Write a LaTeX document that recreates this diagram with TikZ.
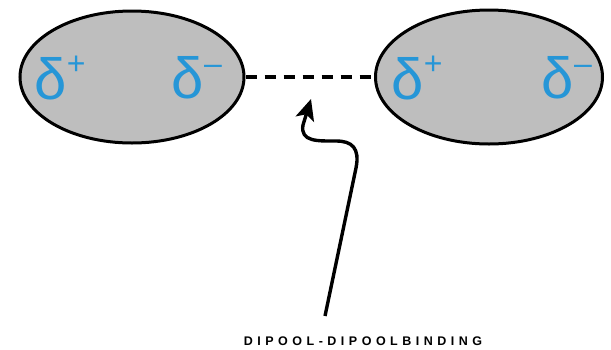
\documentclass[tikz,border=0pt]{standalone}
\usepackage{fontspec}
\setmainfont{Liberation Sans}
\usetikzlibrary{shapes.geometric,arrows.meta}
\definecolor{chargeblue}{RGB}{38,150,215}
\definecolor{molgray}{RGB}{190,190,190}
\tikzset{
  molecule/.style={ellipse, draw=black, line width=3pt, fill=molgray, inner sep=0pt},
  charge/.style={text=chargeblue, font=\fontsize{58}{58}\selectfont, inner sep=0pt},
  bond/.style={line width=4pt, dash pattern=on 11pt off 8pt},
  pointer/.style={line width=3.4pt, -{Stealth[length=21pt,width=19pt,inset=5pt]}},
  caption/.style={font=\bfseries\fontsize{12.5}{12.5}\selectfont\addfontfeature{LetterSpace=36}, inner sep=0pt}
}
\newcommand{\supsign}[1]{\raisebox{0.42em}{\fontsize{32}{32}\selectfont #1}}
\begin{document}
\begin{tikzpicture}[x=1pt,y=-1pt]
  \useasboundingbox (0,0) rectangle (611,349);
  % two polar molecules
  \node[molecule, minimum width=224pt, minimum height=132pt] (left) at (132,77) {};
  \node[molecule, minimum width=227pt, minimum height=134pt] (right) at (489,77) {};
  % partial charges
  \node[charge] (lp) at (60,78) {δ\supsign{+}};
  \node[charge] (lm) at (197,78) {δ\supsign{–}};
  \node[charge] (rp) at (417,78) {δ\supsign{+}};
  \node[charge] (rm) at (567,78) {δ\supsign{–}};
  % dipole-dipole attraction
  \draw[bond] (left.east) -- (right.west);
  % label and pointer
  \node[caption] (label) at (363,341) {DIPOOL-DIPOOLBINDING};
  \coordinate (tail) at (325,316);
  \coordinate (tip) at (311,99);
  \draw[pointer] (tail) -- (356,168)
    .. controls (360,148) and (352,141) .. (336,141)
    .. controls (318,141) and (300,142) .. (303,125)
    -- (tip);
\end{tikzpicture}
\end{document}
